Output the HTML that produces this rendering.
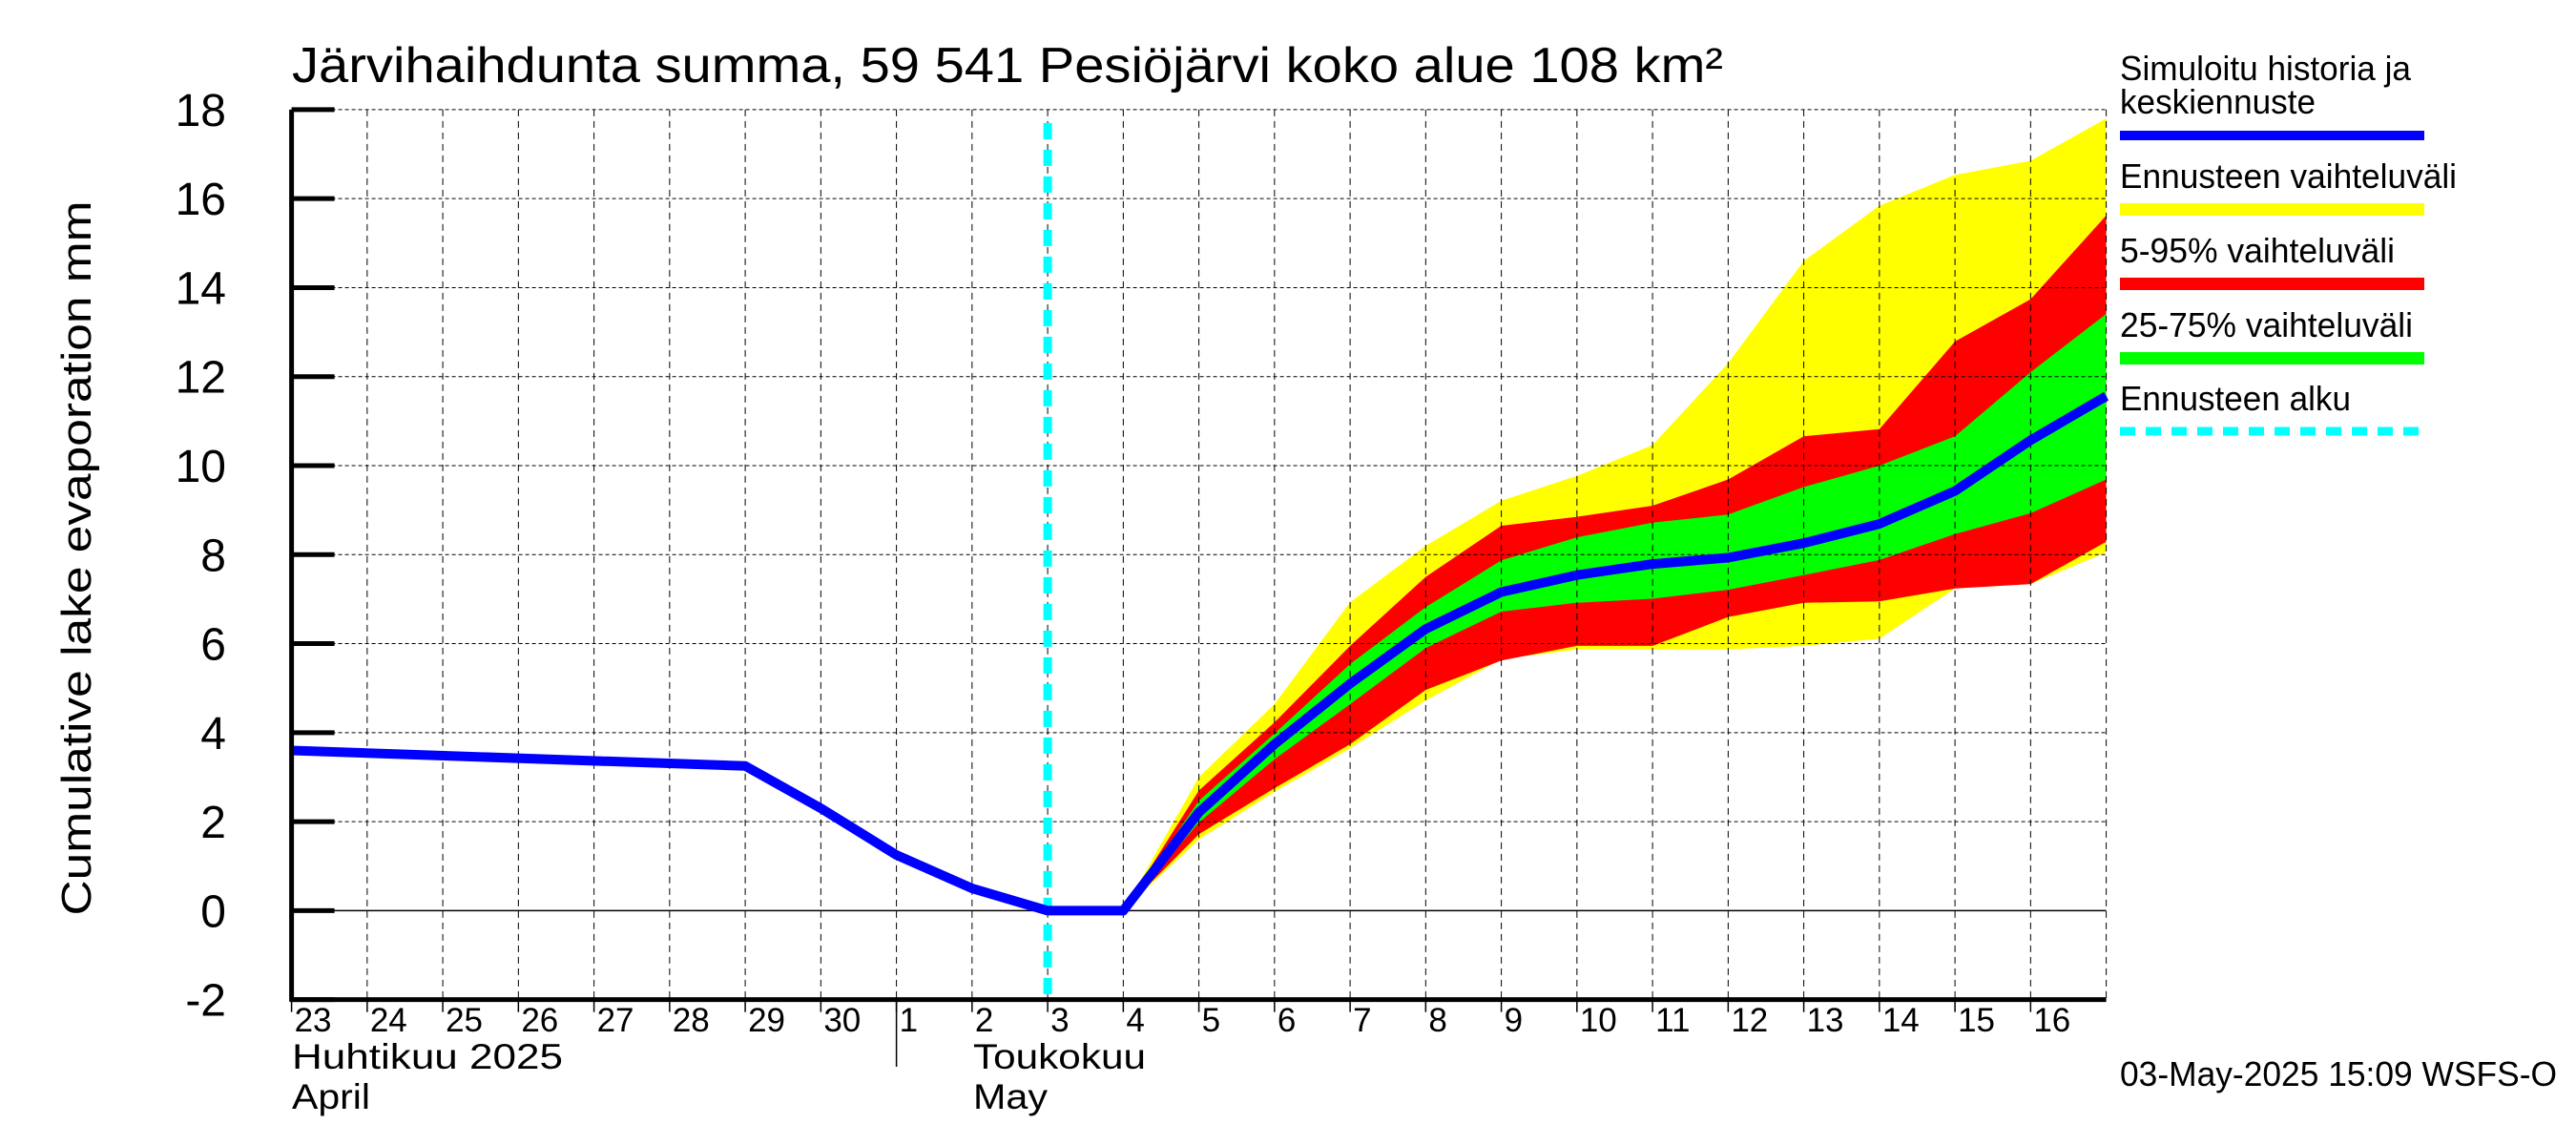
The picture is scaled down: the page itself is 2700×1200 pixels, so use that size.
<!DOCTYPE html>
<html><head><meta charset="utf-8"><style>
html,body{margin:0;padding:0;background:#fff;}
svg{display:block;font-family:"Liberation Sans",sans-serif;}
</style></head><body>
<svg id="chart" width="2700" height="1200" viewBox="0 0 2700 1200" xmlns="http://www.w3.org/2000/svg">
<rect x="0" y="0" width="2700" height="1200" fill="#fff"/>
<g id="bands"></g>
<g id="grid"></g>
<g id="lines"></g>
<g id="axes"></g>
<text x="306" y="86" font-size="52" textLength="1500" lengthAdjust="spacingAndGlyphs">Järvihaihdunta summa, 59 541 Pesiöjärvi koko alue 108 km²</text>
<text transform="translate(95,585) rotate(-90)" text-anchor="middle" font-size="44" textLength="749" lengthAdjust="spacingAndGlyphs">Cumulative lake evaporation   mm</text>
<g>
<text x="2222" y="84" font-size="36" textLength="305" lengthAdjust="spacingAndGlyphs">Simuloitu historia ja</text>
<text x="2222" y="119" font-size="36" textLength="205" lengthAdjust="spacingAndGlyphs">keskiennuste</text>
<rect x="2222" y="137" width="319" height="10" fill="#0000ff"/>
<text x="2222" y="197" font-size="36" textLength="353" lengthAdjust="spacingAndGlyphs">Ennusteen vaihteluväli</text>
<rect x="2222" y="213" width="319" height="13" fill="#ffff00"/>
<text x="2222" y="275" font-size="36" textLength="288" lengthAdjust="spacingAndGlyphs">5-95% vaihteluväli</text>
<rect x="2222" y="291" width="319" height="13" fill="#ff0000"/>
<text x="2222" y="353" font-size="36" textLength="307" lengthAdjust="spacingAndGlyphs">25-75% vaihteluväli</text>
<rect x="2222" y="369" width="319" height="13" fill="#00ff00"/>
<text x="2222" y="430" font-size="36" textLength="242" lengthAdjust="spacingAndGlyphs">Ennusteen alku</text>
<line x1="2222" y1="452" x2="2541" y2="452" stroke="#00ffff" stroke-width="9" stroke-dasharray="16,11"/>
</g>
<text x="2222" y="1138" font-size="36" textLength="458" lengthAdjust="spacingAndGlyphs">03-May-2025 15:09 WSFS-O</text>
<text x="306" y="1120" font-size="37" textLength="284" lengthAdjust="spacingAndGlyphs">Huhtikuu  2025</text>
<text x="306" y="1162" font-size="37" textLength="82" lengthAdjust="spacingAndGlyphs">April</text>
<text x="1020" y="1120" font-size="37" textLength="181" lengthAdjust="spacingAndGlyphs">Toukokuu</text>
<text x="1020" y="1162" font-size="37" textLength="78" lengthAdjust="spacingAndGlyphs">May</text>
</svg>
<script>
// Data (day index 0 = 23 Apr 2025)
const dayLabels = ["23","24","25","26","27","28","29","30","1","2","3","4","5","6","7","8","9","10","11","12","13","14","15","16"];
const yTicks = [-2,0,2,4,6,8,10,12,14,16,18];
const histDays = [0,6,7,8,9,10,11];
const histValues = [3.6,3.25,2.3,1.25,0.5,0,0];
const fcDays = [11,12,13,14,15,16,17,18,19,20,21,22,23,24];
const median = [0,2.21,3.74,5.1,6.33,7.16,7.54,7.79,7.93,8.26,8.69,9.43,10.57,11.56];
const maxVal = [0,3.0,4.64,6.93,8.2,9.21,9.77,10.46,12.3,14.6,15.84,16.53,16.85,17.8];
const p95 = [0,2.7,4.23,5.95,7.5,8.65,8.85,9.1,9.69,10.66,10.82,12.79,13.74,15.62];
const p75 = [0,2.47,3.98,5.54,6.82,7.87,8.39,8.72,8.9,9.52,10.0,10.66,12.1,13.41];
const p25 = [0,1.98,3.4,4.64,5.9,6.72,6.92,7.01,7.21,7.54,7.88,8.46,8.93,9.69];
const p5 = [0,1.72,2.75,3.74,4.96,5.62,5.95,5.95,6.6,6.92,6.95,7.24,7.34,8.29];
const minVal = [0,1.6,2.67,3.65,4.72,5.65,5.87,5.87,5.87,5.95,6.11,7.24,7.34,8.05];
const forecastStartDay = 10;

const X0=305.6, DX=79.25, NDAYS=24;
const Y0=954.4, YU=46.64;
const xs = d => X0 + d*DX;
const ys = v => Y0 - v*YU;
const XR = xs(NDAYS), YT = ys(18), YB = ys(-2);
const NS="http://www.w3.org/2000/svg";
function mk(tag, parent, attrs){const e=document.createElementNS(NS,tag);for(const k in attrs)e.setAttribute(k,attrs[k]);parent.appendChild(e);return e;}
const bands=document.getElementById('bands'), grid=document.getElementById('grid'), lines=document.getElementById('lines'), axes=document.getElementById('axes');

function band(upper, lower, color, name){
  let pts=[];
  for(let i=0;i<fcDays.length;i++) pts.push(xs(fcDays[i]).toFixed(1)+','+ys(upper[i]).toFixed(1));
  for(let i=fcDays.length-1;i>=0;i--) pts.push(xs(fcDays[i]).toFixed(1)+','+ys(lower[i]).toFixed(1));
  const p=mk('polygon',bands,{points:pts.join(' '),fill:color});
  
  
}
band(maxVal,minVal,'#ffff00','band-min-max');
band(p95,p5,'#ff0000','band-5-95');
band(p75,p25,'#00ff00','band-25-75');

// grid
for(const v of yTicks){
  if(v===-2) continue;
  const l=mk('line',grid,{x1:X0,x2:XR,y1:ys(v),y2:ys(v),stroke:'#000','stroke-width':v===0?1.5:1,'stroke-dasharray':v===0?'none':'4,3'});
  
  
}
for(let d=1; d<=NDAYS; d++){
  const l=mk('line',grid,{x1:xs(d),x2:xs(d),y1:YT,y2:YB,stroke:'#000','stroke-width':1,'stroke-dasharray':'7,5'});
  
  
}
// forecast start
const fs=mk('line',lines,{x1:xs(forecastStartDay),x2:xs(forecastStartDay),y1:YT+14,y2:YB,stroke:'#00ffff','stroke-width':9,'stroke-dasharray':'17,11'});



// median line
let mp=[];
for(let i=0;i<histDays.length;i++) mp.push(xs(histDays[i]).toFixed(1)+','+ys(histValues[i]).toFixed(1));
for(let i=1;i<fcDays.length;i++) mp.push(xs(fcDays[i]).toFixed(1)+','+ys(median[i]).toFixed(1));
const ml=mk('polyline',lines,{points:mp.join(' '),fill:'none',stroke:'#0000ff','stroke-width':10,'stroke-linejoin':'round'});



// axes
const ax1=mk('line',axes,{x1:X0,x2:X0,y1:YT,y2:YB+2,stroke:'#000','stroke-width':5});


const ax2=mk('line',axes,{x1:X0-2,x2:XR,y1:YB,y2:YB,stroke:'#000','stroke-width':5});


for(const v of yTicks){
  const t=mk('line',axes,{x1:X0,x2:X0+45,y1:ys(v),y2:ys(v),stroke:'#000','stroke-width':5});
  
  
  const tx=mk('text',axes,{x:237,y:ys(v)+17,'font-size':48,'text-anchor':'end'});
  tx.textContent=String(v);
  
  
}
for(let d=0; d<NDAYS; d++){
  const t=mk('line',axes,{x1:xs(d),x2:xs(d),y1:YB,y2:YB+13,stroke:'#000','stroke-width':1.5});
  
  
  const tx=mk('text',axes,{x:xs(d)+3,y:1081,'font-size':35});
  tx.textContent=dayLabels[d];
  
  
}
const ms=mk('line',axes,{x1:xs(8),x2:xs(8),y1:YB,y2:1118,stroke:'#000','stroke-width':1.5});


</script>
</body></html>
